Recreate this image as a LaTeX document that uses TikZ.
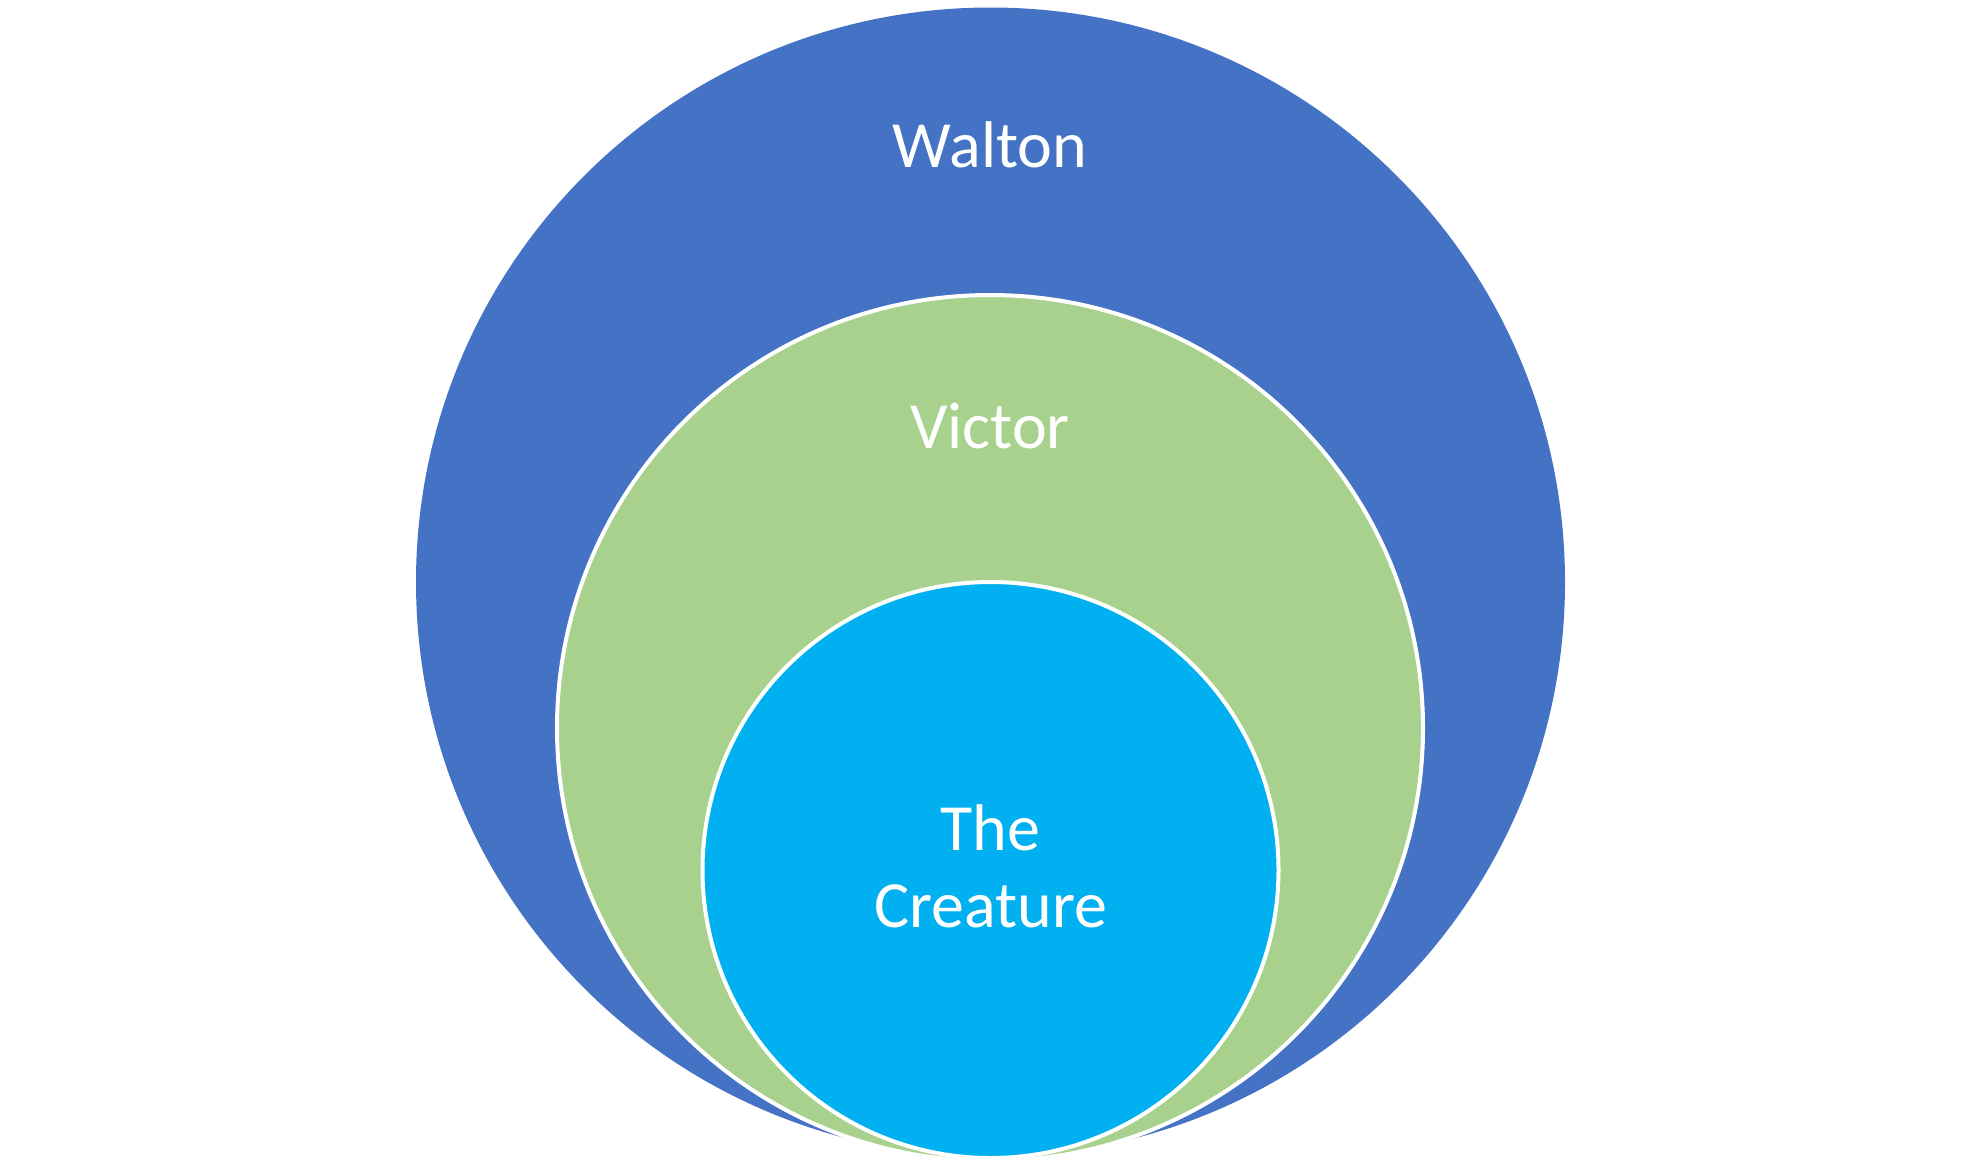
\documentclass[tikz,border=0pt]{standalone}
\usepackage{fontspec}
\setmainfont{Carlito}
\usepackage{tikz}
\usetikzlibrary{positioning}

\definecolor{waltonblue}{HTML}{4472C4}
\definecolor{victorgreen}{HTML}{A9D18E}
\definecolor{creaturecyan}{HTML}{00B0F0}

\begin{document}
\begin{tikzpicture}[x=1pt,y=-1pt,
		disc/.style={circle, inner sep=0pt},
		ring/.style={disc, draw=white, line width=4pt},
		ringlabel/.style={text=white, font=\fontsize{66}{77}\selectfont, align=center}]
			\useasboundingbox (0,0) rectangle (1980,1168);

			% Nested circles
			\node[disc, minimum size=1149pt, fill=waltonblue] (walton) at (990.5,582) {};
			\node[ring, minimum size=866pt, fill=victorgreen] (victor) at (990,728) {};
			\node[ring, minimum size=576pt, fill=creaturecyan] (creature) at (990.5,870) {};

			% Labels
			\node[ringlabel, anchor=base] (waltonlabel) at (990,167) {Walton};
			\node[ringlabel, anchor=base] (victorlabel) at (990,448) {Victor};
			\node[ringlabel, yshift=4pt] (creaturelabel) at (creature.center) {The\\Creature};
		\end{tikzpicture}
\end{document}
